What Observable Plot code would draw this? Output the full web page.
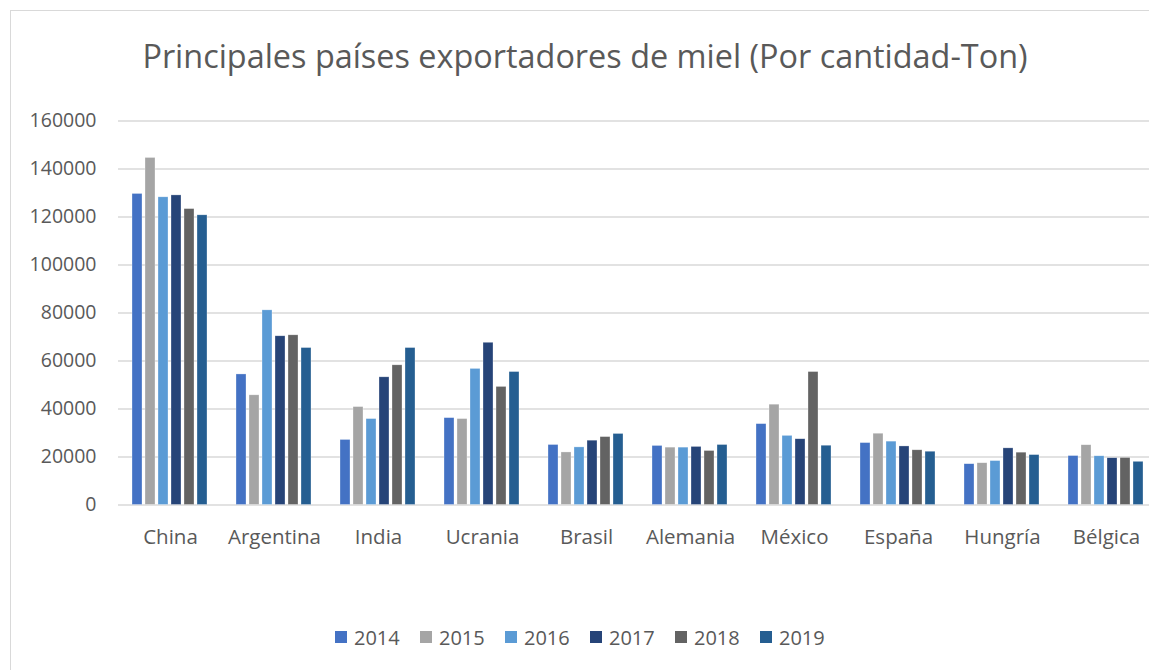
<!DOCTYPE html>
<html>
<head>
<meta charset="utf-8">
<script src="https://cdn.jsdelivr.net/npm/d3@7"></script>
<script src="https://cdn.jsdelivr.net/npm/@observablehq/plot@0.6"></script>
<style>
  html, body { margin: 0; padding: 0; background: #fff; overflow: hidden; }
  #wrap { position: relative; width: 1149px; height: 670px; overflow: hidden; font-family: "Open Sans", sans-serif; color: #595959; }
  #frame { position: absolute; left: 10px; top: 10px; width: 1160px; height: 680px; border: 1px solid #d9d9d9; box-sizing: border-box; }
  #title { position: absolute; left: 10px; width: 1150px; top: 32px; text-align: center; font-size: 32.4px; line-height: 46px; color: #595959; }
  #chart { position: absolute; left: 0; top: 100px; }
  #legend { position: absolute; left: 0; top: 624px; width: 1149px; height: 26px; }
  .item { position: absolute; top: 0; height: 26px; display: flex; align-items: center; font-size: 20px; color: #595959; }
  .sw { width: 12px; height: 12px; margin-right: 7px; }
</style>
</head>
<body>
<div id="wrap">
  <div id="frame"></div>
  <div id="title">Principales países exportadores de miel (Por cantidad-Ton)</div>
  <div id="chart"></div>
  <div id="legend"></div>
</div>
<script>
const countries = ["China","Argentina","India","Ucrania","Brasil","Alemania","México","España","Hungría","Bélgica"];
const years = ["2014","2015","2016","2017","2018","2019"];
const colors = ["#4472C4","#A5A5A5","#5B9BD5","#264478","#636363","#255E91"];
const yTicks = [0,20000,40000,60000,80000,100000,120000,140000,160000];

const v2014 = [129600, 54400, 27100, 36200, 25000, 24600, 33700, 25800, 17000, 20400];
const v2015 = [144600, 45700, 40800, 35800, 21900, 23900, 41800, 29700, 17400, 24900];
const v2016 = [128200, 81100, 35800, 56700, 24000, 23900, 28800, 26400, 18300, 20300];
const v2017 = [129000, 70300, 53200, 67600, 26800, 24200, 27400, 24400, 23600, 19500];
const v2018 = [123300, 70700, 58200, 49200, 28300, 22500, 55400, 22800, 21800, 19600];
const v2019 = [120700, 65400, 65400, 55400, 29600, 25000, 24700, 22200, 20800, 18000];

const series = [v2014, v2015, v2016, v2017, v2018, v2019];
const data = [];
countries.forEach((c, i) => {
  years.forEach((y, j) => data.push({country: c, year: y, value: series[j][i]}));
});

const chart = Plot.plot({
  width: 1160,
  height: 460,
  marginTop: 20.5,
  marginBottom: 55.5,
  marginLeft: 116,
  marginRight: 0,
  style: {fontFamily: "Open Sans, sans-serif", color: "#595959", background: "transparent", maxWidth: "none", overflow: "visible"},
  fx: {domain: countries, padding: 0, label: null},
  x: {domain: years, paddingInner: 0.21, paddingOuter: 0.84, axis: null},
  y: {domain: [0, 160000], label: null},
  color: {domain: years, range: colors},
  marks: [
    Plot.gridY(yTicks, {stroke: "#d9d9d9", strokeOpacity: 1, strokeWidth: 1.3}),
    Plot.barY(data, {fx: "country", x: "year", y: "value", fill: "year", stroke: "#fff", strokeOpacity: 0.5, strokeWidth: 0.6}),
    Plot.axisY(yTicks, {tickSize: 0, tickPadding: 22, fontSize: 19.5, fill: "#595959", tickFormat: d3.format("d"), label: null}),
    Plot.axisFx({anchor: "bottom", tickSize: 0, tickPadding: 24, fontSize: 20.5, fill: "#595959", label: null})
  ]
});
document.getElementById("chart").appendChild(chart);

const legend = document.getElementById("legend");
years.forEach((y, i) => {
  const item = document.createElement("div");
  item.className = "item";
  item.style.left = (335 + i * 85) + "px";
  const sw = document.createElement("div");
  sw.className = "sw";
  sw.style.background = colors[i];
  const t = document.createElement("span");
  t.textContent = y;
  item.appendChild(sw);
  item.appendChild(t);
  legend.appendChild(item);
});
</script>
</body>
</html>
